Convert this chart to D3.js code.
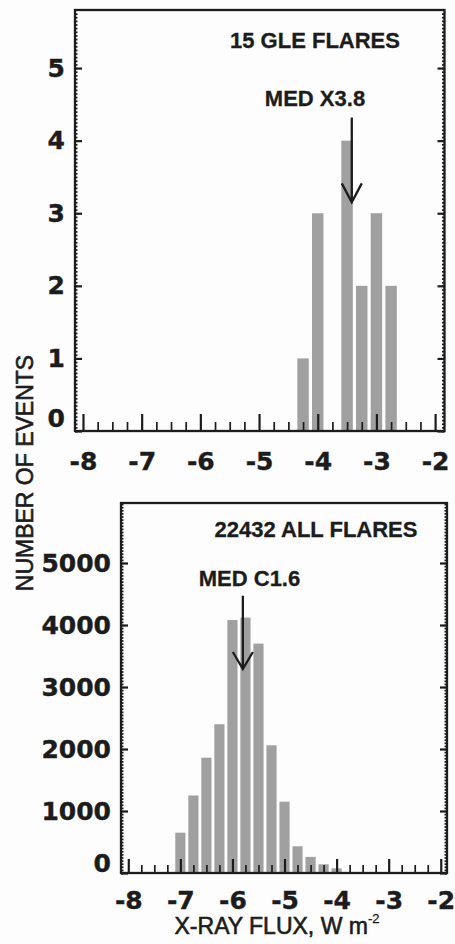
<!DOCTYPE html>
<html>
<head>
<meta charset="utf-8">
<title>GLE flares vs all flares - X-ray flux histograms</title>
<script src="https://d3js.org/d3.v7.min.js"></script>
<style>
  body { margin: 0; background: #fdfdfd; }
  svg text { font-family: "Liberation Sans", Arial, sans-serif; fill: #1c1c1c; }
  .frame { fill: none; stroke: #1c1c1c; stroke-width: 2.3; }
  .bar { fill: #a0a0a0; }
  .axis path { display: none; }
  .axis line { stroke: #1c1c1c; stroke-width: 2.2; }
  .axis.minor line { stroke-width: 1.7; }
  .axis text { font-family: "DejaVu Sans", sans-serif; font-weight: bold; font-size: 25px; stroke: #1c1c1c; stroke-width: 0.4; }
  .label { font-weight: bold; font-size: 22px; stroke: #1c1c1c; stroke-width: 0.3; }
  .title { font-size: 23px; stroke: #1c1c1c; stroke-width: 0.6; }
  .arrow { fill: none; stroke: #1c1c1c; stroke-width: 2.3; }
</style>
</head>
<body>
<svg id="chart" width="455" height="944"></svg>
<script>
// log10 of peak flux (bin centres) and number of events in each bin
const gleBins = [-4.25, -4.0, -3.75, -3.5, -3.25, -3.0, -2.75];
const gleCounts = [1, 3, 0, 4, 2, 3, 2];

const allBins = [-7.0, -6.75, -6.5, -6.25, -6.0, -5.75, -5.5, -5.25, -5.0, -4.75, -4.5, -4.25, -4.0];
const allCounts = [650, 1250, 1860, 2400, 4080, 4120, 3700, 2060, 1150, 430, 260, 140, 75];

// tick labels
const xTicks = [-8, -7, -6, -5, -4, -3, -2];
const gleYTicks = [0, 1, 2, 3, 4, 5];
const allYTicks = [0, 1000, 2000, 3000, 4000, 5000];

// medians (log10 flux)
const gleMedian = -3.42;   // X3.8
const allMedian = -5.80;   // C1.6

const barW = 0.195;
const svg = d3.select("#chart");

function drawPanel(o) {
  const w = o.right - o.left, h = o.bottom - o.top;
  const g = svg.append("g").attr("transform", `translate(${o.left},${o.top})`);

  const x = d3.scaleLinear().domain(o.xDomain).range([0, w]);
  const y = d3.scaleLinear().domain([0, o.yMax]).range([h, 0]);

  const data = o.bins.map((b, i) => ({ bin: b, n: o.counts[i] }));

  g.selectAll(".bar")
    .data(data)
    .enter()
    .append("rect")
    .attr("class", "bar")
    .attr("x", d => x(d.bin - barW / 2))
    .attr("width", x(barW) - x(0))
    .attr("y", d => y(d.n))
    .attr("height", d => h - y(d.n));

  // x axis: majors with labels, quarter-decade minors
  const xMinor = d3.range(-8, -1.99, 0.25).filter(v => !Number.isInteger(v));
  g.append("g").attr("class", "axis minor").attr("transform", `translate(0,${h})`)
    .call(d3.axisBottom(x).tickValues(xMinor).tickSize(-o.xMinorLen).tickFormat(""));
  g.append("g").attr("class", "axis").attr("transform", `translate(0,${h})`)
    .call(d3.axisBottom(x).tickValues(xTicks).tickSize(-o.xMajorLen)
      .tickPadding(o.xPad).tickFormat(d => String(d)));

  // y axes, left with labels, right mirrored
  const yMinor = d3.range(0, o.yMax, o.yMinorStep);
  g.append("g").attr("class", "axis minor")
    .call(d3.axisLeft(y).tickValues(yMinor).tickSize(-2.5).tickFormat(""));
  g.append("g").attr("class", "axis minor").attr("transform", `translate(${w},0)`)
    .call(d3.axisRight(y).tickValues(yMinor).tickSize(-2.5).tickFormat(""));
  const yl = g.append("g").attr("class", "axis")
    .call(d3.axisLeft(y).tickValues(o.yTicks).tickSize(-7).tickPadding(o.yPad).tickFormat(d => String(d)));
  yl.selectAll("text").filter(d => d === 0).attr("y", -o.zeroLift);
  g.append("g").attr("class", "axis").attr("transform", `translate(${w},0)`)
    .call(d3.axisRight(y).tickValues(o.yTicks).tickSize(-7).tickFormat(""));

  g.append("rect").attr("class", "frame").attr("width", w).attr("height", h);

  // annotations
  g.append("text").attr("class", "label").attr("text-anchor", "middle")
    .attr("x", o.titlePos[0]).attr("y", o.titlePos[1]).text(o.title);
  g.append("text").attr("class", "label").attr("text-anchor", "middle")
    .attr("x", o.medPos[0]).attr("y", o.medPos[1]).text(o.medLabel);

  const ax = x(o.median), a0 = y(o.arrowFrom), a1 = y(o.arrowTo);
  g.append("path").attr("class", "arrow")
    .attr("d", `M${ax},${a0}V${a1}M${ax - 10},${a1 - o.headLen}L${ax},${a1}L${ax + 10},${a1 - o.headLen}`);
}

drawPanel({
  left: 75, top: 10, right: 444.5, bottom: 431,
  xDomain: [-8.136, -1.84], yMax: 5.8,
  bins: gleBins, counts: gleCounts, yTicks: gleYTicks, yMinorStep: 0.05,
  xMajorLen: 17, xMinorLen: 9, xPad: 21, yPad: 10, zeroLift: 13,
  title: "15 GLE FLARES", titlePos: [240, 38],
  medLabel: "MED X3.8", medPos: [240, 96],
  median: gleMedian, arrowFrom: 4.32, arrowTo: 3.15, headLen: 19
});

drawPanel({
  left: 121, top: 503, right: 447, bottom: 873,
  xDomain: [-8.14, -1.88], yMax: 5968,
  bins: allBins, counts: allCounts, yTicks: allYTicks, yMinorStep: 50,
  xMajorLen: 14, xMinorLen: 8, xPad: 18, yPad: 10, zeroLift: 10,
  title: "22432 ALL FLARES", titlePos: [195, 34],
  medLabel: "MED C1.6", medPos: [128.5, 83],
  median: allMedian, arrowFrom: 4470, arrowTo: 3290, headLen: 17
});

// shared axis titles
svg.append("text").attr("class", "title")
  .attr("transform", "translate(33,473) rotate(-90)")
  .attr("text-anchor", "middle")
  .text("NUMBER OF EVENTS");

const xt = svg.append("text").attr("class", "title")
  .attr("x", 277).attr("y", 934).attr("text-anchor", "middle");
xt.append("tspan").text("X-RAY FLUX, W m");
xt.append("tspan").attr("dy", -11).attr("font-size", 13).attr("stroke-width", 0.3).text("-2");
</script>
</body>
</html>
